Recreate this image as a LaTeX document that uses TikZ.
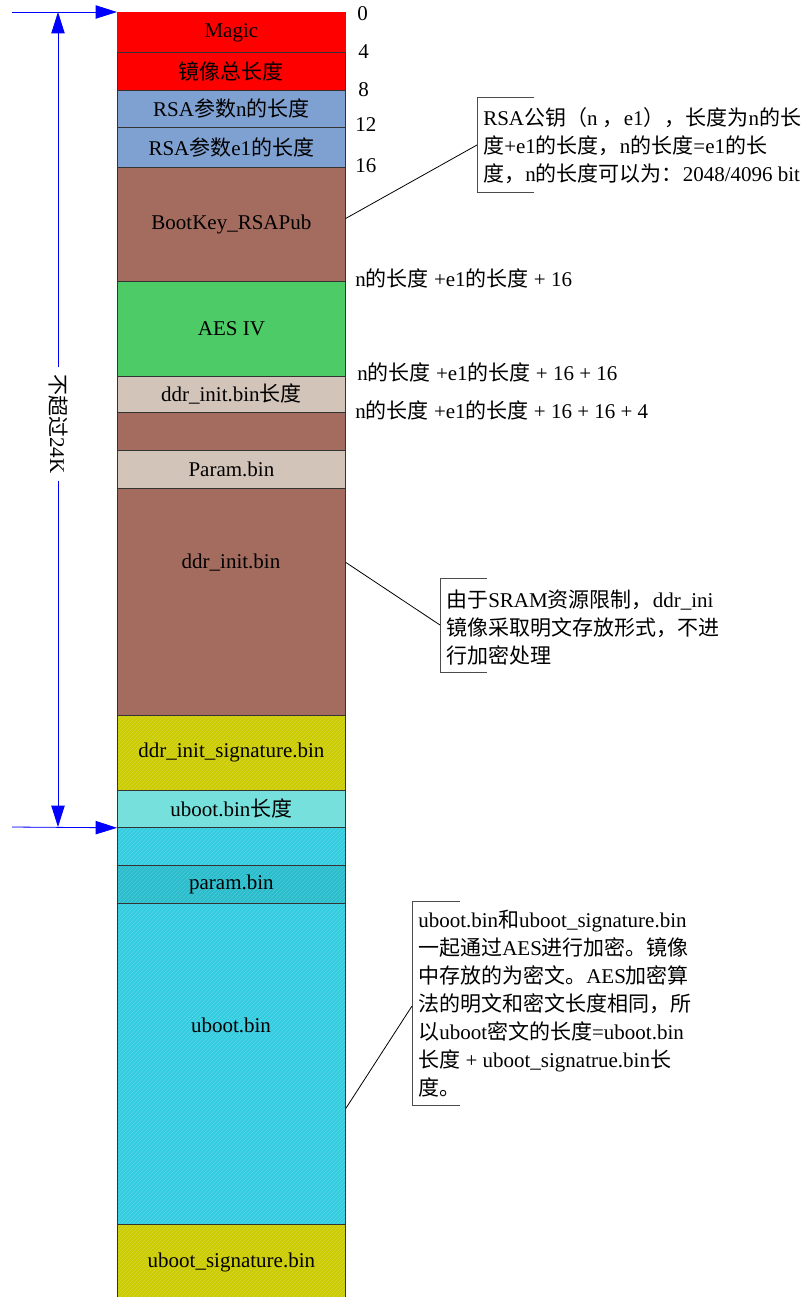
\documentclass[tikz,border=0pt]{standalone}
\usepackage{fontspec}
\setmainfont{Liberation Serif}
\newfontfamily\cjk{Noto Sans CJK SC}
\usetikzlibrary{arrows.meta,patterns}
\newcommand\zh[1]{{\cjk #1}}
\definecolor{cred}{RGB}{255,0,0}
\definecolor{cblue}{RGB}{127,161,210}
\definecolor{cbrown}{RGB}{164,108,95}
\definecolor{cgreen}{RGB}{76,203,102}
\definecolor{ctan}{RGB}{211,196,186}
\definecolor{colive}{RGB}{204,204,0}
\definecolor{colivel}{RGB}{214,214,60}
\definecolor{clcyan}{RGB}{118,224,220}
\definecolor{ccyan}{RGB}{51,204,224}
\definecolor{ccyanl}{RGB}{90,216,232}
\definecolor{cdcyan}{RGB}{41,188,204}
\definecolor{cdcyanl}{RGB}{80,202,216}
\begin{document}
\begin{tikzpicture}[x=0.75pt,y=-0.75pt,
  every node/.style={font=\fontsize{15.75}{21}\selectfont},
  blk/.style={draw=black!80, line width=0.6pt, minimum width=171pt, inner sep=0pt, anchor=north west},
  hatch/.style 2 args={preaction={fill=#1}, pattern=north east lines, pattern color=#2},
  off/.style={anchor=west, inner sep=0pt},
  dimarrow/.style={draw=blue, line width=0.6pt, -{Triangle[length=16pt,width=10pt]}, fill=blue},
  brk/.style={draw=black!70, line width=0.6pt},
  lead/.style={draw=black, line width=0.6pt},
  ctext/.style={anchor=north west, align=left, inner sep=0pt}]
\useasboundingbox (0,0) rectangle (808,1297);

% memory blocks
\node[blk, fill=cred, draw=cred, minimum height=30pt] (magic) at (117,12) {Magic};
\node[blk, fill=cred, minimum height=28.5pt] (total) at (117,52) {\zh{镜像总长度}};
\node[blk, fill=cblue, minimum height=27.75pt] (rsan) at (117,90) {RSA\zh{参数}n\zh{的长度}};
\node[blk, fill=cblue, minimum height=30pt] (rsae) at (117,127) {RSA\zh{参数}e1\zh{的长度}};
\node[blk, fill=cbrown, minimum height=85.5pt] (bootkey) at (117,167) {BootKey\_RSAPub};
\node[blk, fill=cgreen, minimum height=71.25pt] (aesiv) at (117,281) {AES IV};
\node[blk, fill=ctan, minimum height=27pt] (ddrlen) at (117,376) {ddr\_init.bin\zh{长度}};
\node[blk, fill=cbrown, minimum height=28.5pt] (gap1) at (117,412) {};
\node[blk, fill=ctan, minimum height=28.5pt] (param1) at (117,450) {Param.bin};
\node[blk, fill=cbrown, minimum height=170.25pt] (ddrinit) at (117,488) {};
\node (ddrinitlbl) at (231,563) {ddr\_init.bin};
\node[blk, hatch={colive}{colivel}, minimum height=56.25pt] (ddrsig) at (117,715) {ddr\_init\_signature.bin};
\node[blk, fill=clcyan, minimum height=27.75pt] (ubootlen) at (117,790) {uboot.bin\zh{长度}};
\node[blk, hatch={ccyan}{ccyanl}, minimum height=28.5pt] (gap2) at (117,827) {};
\node[blk, hatch={cdcyan}{cdcyanl}, minimum height=28.5pt] (param2) at (117,865) {param.bin};
\node[blk, hatch={ccyan}{ccyanl}, minimum height=240.75pt] (uboot) at (117,903) {};
\node (ubootlbl) at (231,1025) {uboot.bin};
\node[blk, hatch={colive}{colivel}, minimum height=57pt] (ubootsig) at (117,1224) {uboot\_signature.bin};

% offsets
\node[off] (o0) at (357,14) {0};
\node[off] (o4) at (358,52) {4};
\node[off] (o8) at (358,90) {8};
\node[off] (o12) at (355,125) {12};
\node[off] (o16) at (355,166) {16};
\node[off] (oa) at (355,278) {n\zh{的长度} +e1\zh{的长度} + 16};
\node[off] (ob) at (357,372) {n\zh{的长度} +e1\zh{的长度} + 16 + 16};
\node[off] (oc) at (355,410) {n\zh{的长度} +e1\zh{的长度} + 16 + 16 + 4};

% dimension
\coordinate (dt) at (58,12);
\coordinate (db) at (58,827);
\coordinate (tl) at (12,12);
\coordinate (bl) at (12,827);
\node[rotate=-90, inner sep=5pt] (dim) at (58,424) {\zh{不超过}24K};
\draw[dimarrow] (dim.west) -- (dt);
\draw[dimarrow] (dim.east) -- (db);
\draw[dimarrow] (tl) -- (magic.north west);
\draw[dimarrow] (bl) -- (ubootlen.south west);

% callout 1
\coordinate (b1t) at (534,97);
\coordinate (b1m) at (477,145);
\draw[brk] (b1t) -- (477,97) -- (477,192) -- (534,192);
\node[ctext] (c1) at (483,107) {RSA\zh{公钥（}n \zh{，}e1\zh{），长度为}n\zh{的长}\\
\zh{度}+e1\zh{的长度，}n\zh{的长度}=e1\zh{的长}\\
\zh{度，}n\zh{的长度可以为：}2048/4096 bit};
\draw[lead] ([yshift=4.5pt]bootkey.east) -- (b1m);

% callout 2
\coordinate (b2t) at (487,578);
\coordinate (b2m) at (440,625);
\draw[brk] (b2t) -- (440,578) -- (440,672) -- (487,672);
\node[ctext] (c2) at (446,590) {\zh{由于}SRAM\zh{资源限制，}ddr\_ini\\
\zh{镜像采取明文存放形式，不进}\\
\zh{行加密处理}};
\draw[lead] ([yshift=29.6pt]ddrinit.east) -- (b2m);

% callout 3
\coordinate (b3t) at (460,901);
\coordinate (b3m) at (412,1006);
\draw[brk] (b3t) -- (412,901) -- (412,1105) -- (460,1105);
\node[ctext] (c3) at (418,910) {uboot.bin\zh{和}uboot\_signature.bin\\
\zh{一起通过}AES\zh{进行加密。镜像}\\
\zh{中存放的为密文。}AES\zh{加密算}\\
\zh{法的明文和密文长度相同，所}\\
\zh{以}uboot\zh{密文的长度}=uboot.bin\\
\zh{长度} + uboot\_signatrue.bin\zh{长}\\
\zh{度。}};
\draw[lead] ([yshift=-33.4pt]uboot.east) -- (b3m);
\end{tikzpicture}
\end{document}
